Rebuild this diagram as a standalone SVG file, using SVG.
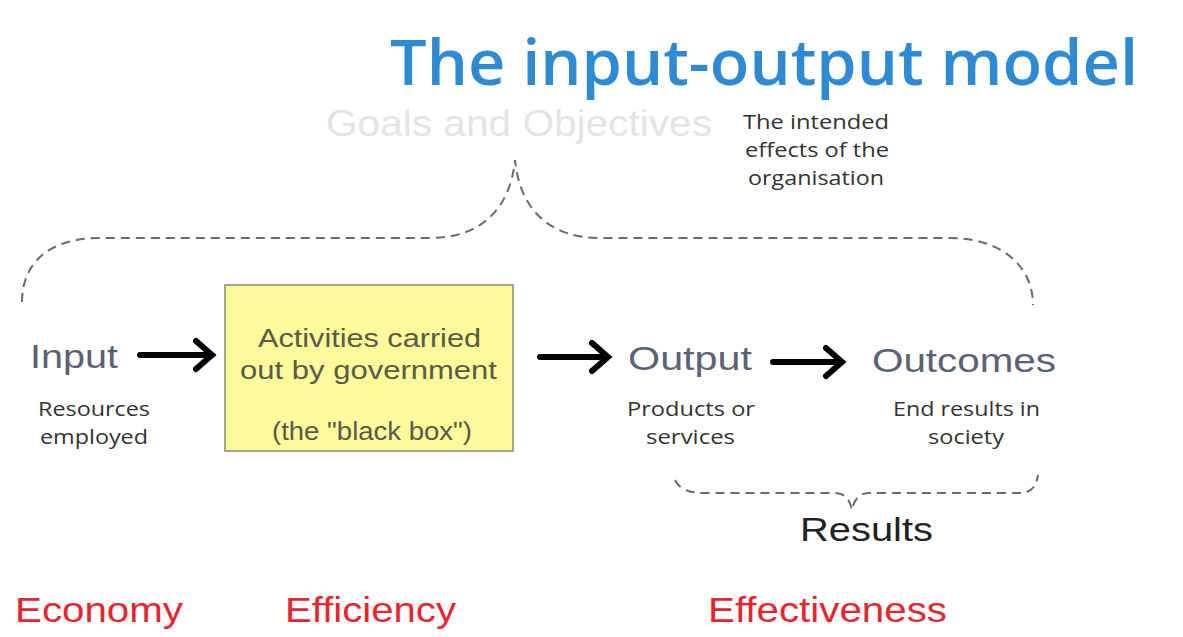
<svg xmlns="http://www.w3.org/2000/svg" width="1183" height="637" viewBox="0 0 1183 637">
<style>
.title{font-family:"Open Sans","Noto Sans",sans-serif;font-size:63px;fill:#2e8ad3;font-weight:600}
.goals{font-family:"Liberation Sans",Arial,sans-serif;font-size:36px;fill:#e4e4e4}
.note{font-family:"Open Sans","Noto Sans",sans-serif;font-size:20px;fill:#333}
.big{font-family:"Liberation Sans",Arial,sans-serif;font-size:34px;fill:#5b6275}
.box{font-family:"Liberation Sans",Arial,sans-serif;font-size:26px;fill:#5a5a48}
.red{font-family:"Liberation Sans",Arial,sans-serif;font-size:35px;fill:#e8252e}
.res{font-family:"Liberation Sans",Arial,sans-serif;font-size:33px;fill:#222}
.dash{fill:none;stroke:#6a6a6a;stroke-width:2;stroke-dasharray:9,6}
.arr{fill:none;stroke:#000;stroke-width:6;stroke-linecap:round;stroke-linejoin:miter}
</style>
<rect width="1183" height="637" fill="#fff"/>
<text class="title" x="390" y="85" textLength="748" lengthAdjust="spacingAndGlyphs">The input-output model</text>
<text class="goals" x="326" y="136" textLength="386" lengthAdjust="spacingAndGlyphs">Goals and Objectives</text>
<g id="intended">
<text class="note" x="743" y="129" textLength="146" lengthAdjust="spacingAndGlyphs">The intended</text>
<text class="note" x="745" y="157" textLength="144" lengthAdjust="spacingAndGlyphs">effects of the</text>
<text class="note" x="748" y="185" textLength="136" lengthAdjust="spacingAndGlyphs">organisation</text>
</g>
<g id="connectors">
<path class="dash" d="M22,302 C22,262 50,238 100,238 L430,238 C480,238 510,210 515,160 C520,210 550,238 600,238 L950,238 C1000,238 1033,265 1033,305"/>
<path class="dash" d="M675,480 C680,490 690,493 705,493 L835,493 C845,493 850,500 852,510 C854,500 859,493 869,493 L1020,493 C1030,493 1036,488 1038,475"/>
<path class="arr" d="M140,355 L210,355 M196,341 L212,355 L196,369"/>
<path class="arr" d="M540,357 L606,357 M592,343 L608,357 L592,371"/>
<path class="arr" d="M773,362 L840,362 M826,348 L842,362 L826,376"/>
</g>
<g id="input">
<text class="big" x="30" y="368" textLength="88" lengthAdjust="spacingAndGlyphs">Input</text>
<text class="note" x="38" y="416" textLength="112" lengthAdjust="spacingAndGlyphs">Resources</text>
<text class="note" x="40" y="444" textLength="108" lengthAdjust="spacingAndGlyphs">employed</text>
</g>
<g id="activities">
<rect x="225" y="285" width="288" height="166" fill="#fdfa9c" stroke="#8a8a7a" stroke-width="1.5"/>
<text class="box" x="258" y="347" textLength="223" lengthAdjust="spacingAndGlyphs">Activities carried</text>
<text class="box" x="240" y="379" textLength="257" lengthAdjust="spacingAndGlyphs">out by government</text>
<text class="box" x="272" y="440" textLength="200" lengthAdjust="spacingAndGlyphs">(the "black box")</text>
</g>
<g id="output">
<text class="big" x="628" y="370" textLength="124" lengthAdjust="spacingAndGlyphs">Output</text>
<text class="note" x="627" y="416" textLength="128" lengthAdjust="spacingAndGlyphs">Products or</text>
<text class="note" x="646" y="444" textLength="89" lengthAdjust="spacingAndGlyphs">services</text>
</g>
<g id="outcomes">
<text class="big" x="872" y="372" textLength="184" lengthAdjust="spacingAndGlyphs">Outcomes</text>
<text class="note" x="893" y="416" textLength="147" lengthAdjust="spacingAndGlyphs">End results in</text>
<text class="note" x="928" y="444" textLength="76" lengthAdjust="spacingAndGlyphs">society</text>
</g>
<g id="results">
<text class="res" x="800" y="541" textLength="133" lengthAdjust="spacingAndGlyphs">Results</text>
</g>
<g id="labels">
<text class="red" x="15" y="622" textLength="168" lengthAdjust="spacingAndGlyphs">Economy</text>
<text class="red" x="285" y="622" textLength="171" lengthAdjust="spacingAndGlyphs">Efficiency</text>
<text class="red" x="708" y="622" textLength="239" lengthAdjust="spacingAndGlyphs">Effectiveness</text>
</g>
</svg>
